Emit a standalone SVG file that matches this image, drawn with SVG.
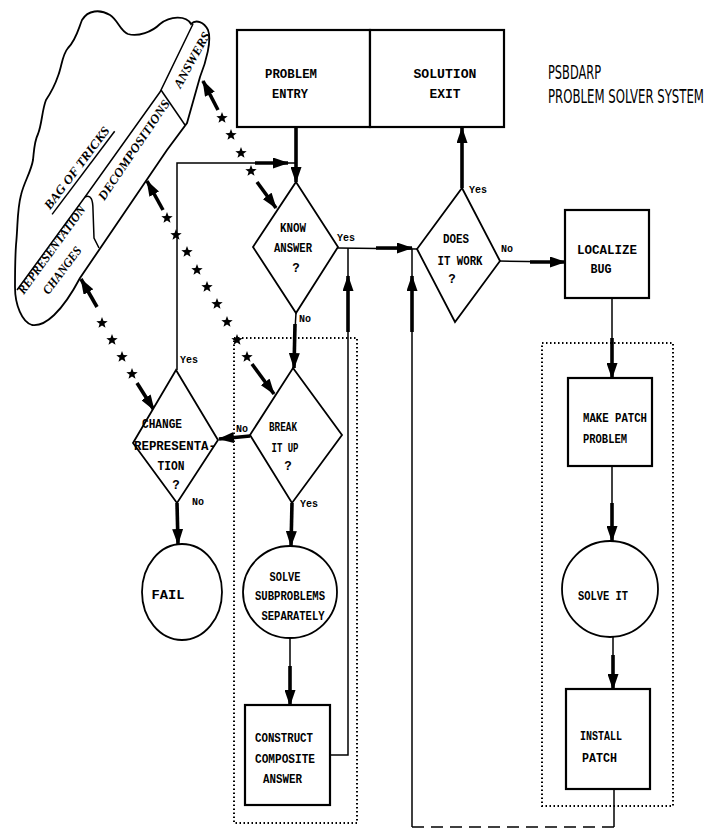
<svg xmlns="http://www.w3.org/2000/svg" width="711" height="829" viewBox="0 0 711 829">
<defs>
<marker id="ah" viewBox="0 0 16 11" markerUnits="userSpaceOnUse" markerWidth="16" markerHeight="11" refX="15" refY="5.5" orient="auto"><path d="M0,0 L16,5.5 L0,11 Z" fill="#000"/></marker>
<path id="star" d="M0,-6 L1.5,-2.05 L5.7,-1.85 L2.4,0.8 L3.5,4.85 L0,2.5 L-3.5,4.85 L-2.4,0.8 L-5.7,-1.85 L-1.5,-2.05 Z" fill="#000"/>
</defs>
<style>
.box{fill:#fff;stroke:#000;stroke-width:2.2}
.shape{fill:#fff;stroke:#000;stroke-width:1.8}
.ln{fill:none;stroke:#000;stroke-width:1.5}
.thk{fill:none;stroke:#000;stroke-width:3.6}
.dot{fill:none;stroke:#000;stroke-width:2;stroke-dasharray:1.5 2.5}
.t{font-family:"Liberation Mono","DejaVu Sans Mono",monospace;font-weight:bold;font-size:12.5px;fill:#000;text-anchor:middle}
.ts{font-family:"Liberation Mono","DejaVu Sans Mono",monospace;font-weight:bold;font-size:12.5px;fill:#000}
.lbl{font-family:"Liberation Mono","DejaVu Sans Mono",monospace;font-weight:bold;font-size:10px;fill:#000}
.hand{font-family:"Liberation Serif","DejaVu Serif",serif;font-style:italic;font-weight:bold;font-size:12.5px;fill:#000;text-anchor:middle}
.title{font-family:"Liberation Sans Narrow","DejaVu Sans Condensed","Liberation Sans",sans-serif;font-size:12.5px;fill:#000}
</style>
<rect width="711" height="829" fill="#fff"/>

<g id="title">
<text class="title" transform="translate(548,79) scale(1,1.5)" x="0" y="0" textLength="53" lengthAdjust="spacingAndGlyphs">PSBDARP</text>
<text class="title" transform="translate(548,103) scale(1,1.5)" x="0" y="0" textLength="156" lengthAdjust="spacingAndGlyphs">PROBLEM SOLVER SYSTEM</text>
</g>

<g id="bag-of-tricks">
<path class="shape" stroke-width="2" d="M15,287 C15,305 22,322 32,325 C45,327 62,312 80,278 L167,150 L187,123 L200,77 C206,62 212,40 208,30 C204,22 196,19 191,24 C186,15 170,16 160,24 C152,32 138,37 128,34 C120,31 118,20 110,15 C100,9 88,10 82,20 C78,30 76,40 68,48 C62,55 62,66 58,76 C54,88 50,94 46,100 C42,110 42,124 38,134 C34,142 34,152 33,160 C31,172 24,182 21,195 C17,210 18,225 16,245 C15,260 15,275 15,287 Z"/>
<path class="ln" stroke-width="2" d="M17,290 L85,197 L160,92 L193,24"/>
<path class="ln" stroke-width="2" d="M85,197 C91,194 93,200 93,210 L94,238 L99,248"/>
<path class="ln" stroke-width="2" d="M161,90 L185,125"/>
<g transform="translate(81,171) rotate(-53)">
<text class="hand" x="0" y="-1" textLength="100" lengthAdjust="spacingAndGlyphs">BAG OF TRICKS</text>
<line class="ln" x1="-52" y1="3" x2="52" y2="3"/>
</g>
<g transform="translate(134,150) rotate(-56)"><text class="hand" x="0" y="4" textLength="118" lengthAdjust="spacingAndGlyphs">DECOMPOSITIONS</text></g>
<g transform="translate(192,60) rotate(-61)"><text class="hand" x="0" y="4" textLength="62" lengthAdjust="spacingAndGlyphs">ANSWERS</text></g>
<g transform="translate(55,252) rotate(-54)"><text class="hand" x="0" y="0" textLength="106" lengthAdjust="spacingAndGlyphs">REPRESENTATION</text></g>
<g transform="translate(63,271) rotate(-53)"><text class="hand" x="0" y="3" textLength="56" lengthAdjust="spacingAndGlyphs">CHANGES</text></g>
</g>

<g id="dotted-groups">
<rect class="dot" x="234" y="338" width="123" height="485"/>
<rect class="dot" x="542" y="343" width="131" height="463"/>
</g>

<g id="connectors">
<line class="thk" x1="296" y1="127" x2="296" y2="182" marker-end="url(#ah)"/>
<polyline class="ln" points="177,370 177,163 296,163"/>
<line class="thk" x1="255" y1="163" x2="288" y2="163" marker-end="url(#ah)"/>
<line class="ln" x1="338" y1="248" x2="417" y2="249"/>
<line class="thk" x1="376" y1="248" x2="412" y2="248" marker-end="url(#ah)"/>
<polyline class="ln" points="330,755 348,755 348,248"/>
<line class="thk" x1="348" y1="332" x2="348" y2="276" marker-end="url(#ah)"/>
<polyline class="ln" points="614,789 614,827"/>
<line class="ln" x1="614" y1="827" x2="412" y2="827" stroke-dasharray="12 7" stroke="#333" stroke-width="1"/>
<line class="ln" x1="412" y1="827" x2="412" y2="249"/>
<line class="thk" x1="412" y1="332" x2="412" y2="276" marker-end="url(#ah)"/>
<line class="thk" x1="462" y1="188" x2="462" y2="128" marker-end="url(#ah)"/>
<line class="ln" x1="499" y1="261" x2="565" y2="262"/>
<line class="thk" x1="530" y1="262" x2="565" y2="262" marker-end="url(#ah)"/>
<line class="ln" x1="612" y1="298" x2="612" y2="378"/>
<line class="thk" x1="612" y1="338" x2="612" y2="378" marker-end="url(#ah)"/>
<line class="ln" x1="612" y1="466" x2="612" y2="541"/>
<line class="thk" x1="612" y1="503" x2="612" y2="541" marker-end="url(#ah)"/>
<line class="ln" x1="613" y1="636" x2="613" y2="689"/>
<line class="thk" x1="613" y1="655" x2="613" y2="689" marker-end="url(#ah)"/>
<line class="ln" x1="296" y1="313" x2="295" y2="330"/>
<line class="thk" x1="295" y1="324" x2="294" y2="368" marker-end="url(#ah)"/>
<line class="thk" x1="250" y1="436" x2="219" y2="439" marker-end="url(#ah)"/>
<line class="thk" x1="177" y1="503" x2="178" y2="544" marker-end="url(#ah)"/>
<line class="thk" x1="292" y1="503" x2="291" y2="546" marker-end="url(#ah)"/>
<line class="ln" x1="290" y1="638" x2="290" y2="705"/>
<line class="thk" x1="290" y1="666" x2="290" y2="705" marker-end="url(#ah)"/>

<line class="thk" x1="218" y1="110" x2="203" y2="81" marker-end="url(#ah)"/>
<line class="thk" x1="257" y1="182" x2="276" y2="208" marker-end="url(#ah)"/>
<line class="thk" x1="163" y1="210" x2="147" y2="181" marker-end="url(#ah)"/>
<line class="thk" x1="252" y1="364" x2="274" y2="394" marker-end="url(#ah)"/>
<line class="thk" x1="97" y1="307" x2="81" y2="279" marker-end="url(#ah)"/>
<line class="thk" x1="137" y1="383" x2="154" y2="410" marker-end="url(#ah)"/>
<use href="#star" x="222" y="118"/>
<use href="#star" x="231" y="135"/>
<use href="#star" x="241" y="153"/>
<use href="#star" x="251" y="171"/>
<use href="#star" x="167" y="218"/>
<use href="#star" x="176" y="235"/>
<use href="#star" x="187" y="252"/>
<use href="#star" x="197" y="270"/>
<use href="#star" x="207" y="287"/>
<use href="#star" x="217" y="304"/>
<use href="#star" x="227" y="322"/>
<use href="#star" x="237" y="340"/>
<use href="#star" x="247" y="357"/>
<use href="#star" x="102" y="323"/>
<use href="#star" x="112" y="340"/>
<use href="#star" x="122" y="357"/>
<use href="#star" x="132" y="374"/>

<text class="lbl" x="337" y="241">Yes</text>
<text class="lbl" x="299" y="322">No</text>
<text class="lbl" x="469" y="193">Yes</text>
<text class="lbl" x="501" y="252">No</text>
<text class="lbl" x="180" y="363">Yes</text>
<text class="lbl" x="192" y="505">No</text>
<text class="lbl" x="236" y="432">No</text>
<text class="lbl" x="300" y="507">Yes</text>
</g>

<g id="problem-entry">
<rect class="box" x="237" y="30" width="133" height="97"/>
<text class="t" x="291" y="78" font-size="13.5" textLength="52" lengthAdjust="spacingAndGlyphs">PROBLEM</text>
<text class="t" x="290" y="98" font-size="13.5" textLength="36" lengthAdjust="spacingAndGlyphs">ENTRY</text>
</g>
<g id="solution-exit">
<rect class="box" x="370" y="30" width="134" height="97"/>
<text class="t" x="445" y="78" font-size="13.5" textLength="63" lengthAdjust="spacingAndGlyphs">SOLUTION</text>
<text class="t" x="445" y="98" font-size="13.5" textLength="31" lengthAdjust="spacingAndGlyphs">EXIT</text>
</g>

<g id="know-answer">
<polygon class="shape" points="296,182 338,247 296,313 253,247"/>
<text class="t" x="293" y="232" textLength="26" lengthAdjust="spacingAndGlyphs">KNOW</text>
<text class="t" x="293" y="252" textLength="38" lengthAdjust="spacingAndGlyphs">ANSWER</text>
<text class="t" x="296" y="272">?</text>
</g>

<g id="does-it-work">
<polygon class="shape" points="462,188 500,261 455,322 417,249"/>
<text class="t" x="456" y="243" textLength="26" lengthAdjust="spacingAndGlyphs">DOES</text>
<text class="t" x="460" y="265" textLength="45" lengthAdjust="spacingAndGlyphs">IT WORK</text>
<text class="t" x="452" y="283">?</text>
</g>

<g id="localize-bug">
<rect class="box" x="565" y="210" width="84" height="88"/>
<text class="t" x="607" y="254" textLength="60" lengthAdjust="spacingAndGlyphs">LOCALIZE</text>
<text class="t" x="601" y="273" textLength="21" lengthAdjust="spacingAndGlyphs">BUG</text>
</g>

<g id="break-it-up">
<polygon class="shape" points="293,368 342,435 292,503 250,435"/>
<text class="t" x="283" y="431" textLength="28" lengthAdjust="spacingAndGlyphs">BREAK</text>
<text class="t" x="285" y="452" textLength="27" lengthAdjust="spacingAndGlyphs">IT UP</text>
<text class="t" x="288" y="470">?</text>
</g>

<g id="change-representation">
<polygon class="shape" points="176,370 218,440 177,503 133,443"/>
<text class="t" x="162" y="428" textLength="40" lengthAdjust="spacingAndGlyphs">CHANGE</text>
<text class="t" x="175" y="450" textLength="82" lengthAdjust="spacingAndGlyphs">REPRESENTA-</text>
<text class="t" x="171" y="470" textLength="27" lengthAdjust="spacingAndGlyphs">TION</text>
<text class="t" x="176" y="489">?</text>
</g>

<g id="fail">
<ellipse class="shape" cx="182" cy="592" rx="40" ry="48"/>
<text class="t" x="168" y="599" font-size="13.5" textLength="33" lengthAdjust="spacingAndGlyphs">FAIL</text>
</g>

<g id="solve-subproblems">
<ellipse class="shape" cx="290" cy="592" rx="47" ry="46"/>
<text class="t" x="285" y="581" textLength="31" lengthAdjust="spacingAndGlyphs">SOLVE</text>
<text class="t" x="290" y="600" textLength="70" lengthAdjust="spacingAndGlyphs">SUBPROBLEMS</text>
<text class="t" x="293" y="620" textLength="63" lengthAdjust="spacingAndGlyphs">SEPARATELY</text>
</g>

<g id="construct-composite-answer">
<rect class="box" x="245" y="705" width="85" height="100"/>
<text class="ts" x="255" y="742" textLength="58" lengthAdjust="spacingAndGlyphs">CONSTRUCT</text>
<text class="ts" x="255" y="763" textLength="60" lengthAdjust="spacingAndGlyphs">COMPOSITE</text>
<text class="ts" x="263" y="783" textLength="39" lengthAdjust="spacingAndGlyphs">ANSWER</text>
</g>

<g id="make-patch-problem">
<rect class="box" x="568" y="378" width="84" height="88"/>
<text class="ts" x="583" y="422" textLength="64" lengthAdjust="spacingAndGlyphs">MAKE PATCH</text>
<text class="ts" x="583" y="443" textLength="44" lengthAdjust="spacingAndGlyphs">PROBLEM</text>
</g>

<g id="solve-it">
<ellipse class="shape" cx="610" cy="589" rx="48" ry="48"/>
<text class="ts" x="578" y="600" textLength="50" lengthAdjust="spacingAndGlyphs">SOLVE IT</text>
</g>

<g id="install-patch">
<rect class="box" x="566" y="689" width="84" height="100"/>
<text class="ts" x="580" y="740" textLength="42" lengthAdjust="spacingAndGlyphs">INSTALL</text>
<text class="ts" x="582" y="762" textLength="35" lengthAdjust="spacingAndGlyphs">PATCH</text>
</g>
</svg>
